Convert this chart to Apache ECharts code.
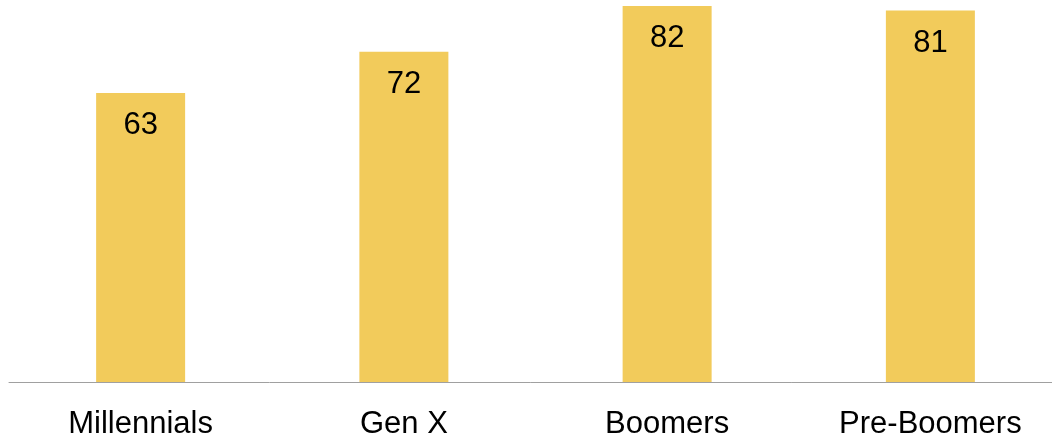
<!DOCTYPE html>
<html><head><meta charset="utf-8">
<script src="https://cdn.jsdelivr.net/npm/echarts@6/dist/echarts.min.js"></script>
<style>html,body{margin:0;padding:0;background:#fff;overflow:hidden}#c{width:1052px;height:441px}</style>
</head><body><div id="c"></div>
<script>
const categories = ['Millennials', 'Gen X', 'Boomers', 'Pre-Boomers'];
const values = [63, 72, 82, 81];

const chart = echarts.init(document.getElementById('c'), null, {renderer: 'canvas'});
chart.setOption({
  animation: false,
  grid: {left: 9, width: 1053, top: 0, bottom: 59, containLabel: false, outerBoundsMode: 'none'},
  xAxis: {
    type: 'category', data: categories,
    axisLine: {lineStyle: {color: '#a0a0a0', width: 1}},
    axisTick: {show: false},
    axisLabel: {color: '#000', fontFamily: 'Liberation Sans, Arial', fontSize: 31, margin: 27}
  },
  yAxis: {type: 'value', min: 0, max: 83.3, show: false, splitLine: {show: false}},
  series: [{
    type: 'bar', data: values, barWidth: 89,
    itemStyle: {color: '#F2CB5B'},
    label: {show: true, position: 'insideTop', distance: 17, color: '#000', fontFamily: 'Liberation Sans, Arial', fontSize: 31}
  }]
});
</script></body></html>
